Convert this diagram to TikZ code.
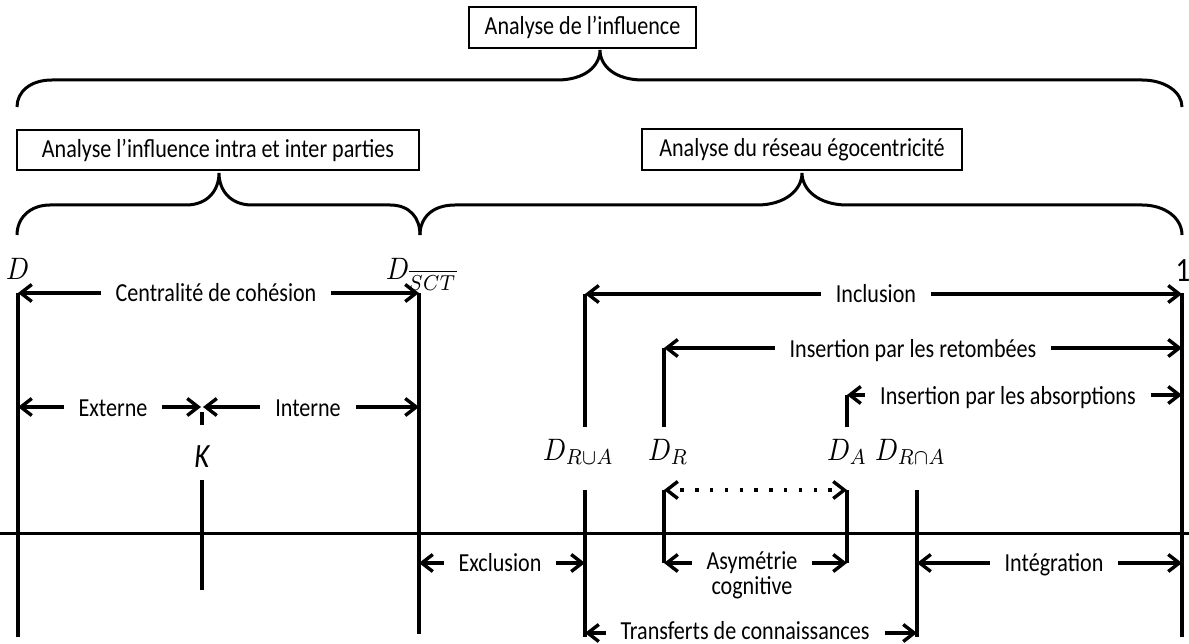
\documentclass[tikz,border=0pt]{standalone}
\usepackage{graphicx}
\usepackage{fontspec}
\setmainfont{Carlito}[FakeStretch=0.85]
\usetikzlibrary{arrows.meta}
\newcommand{\bigmath}[1]{\scalebox{2.7}[3.1]{\fontsize{10}{12}\selectfont$#1$}}
\begin{document}
\begin{tikzpicture}[x=1pt,y=-1pt,
  every node/.style={font=\fontsize{26}{28}\selectfont, inner sep=0pt},
  lbl/.style={fill=white, inner xsep=15pt, inner ysep=2pt, anchor=base},
  plain/.style={anchor=base},
  box/.style={draw, line width=1.2pt},
  vline/.style={line width=3.5pt},
  hline/.style={line width=3pt},
  arr/.style={line width=3.4pt, {Straight Barb[length=11pt,width=17pt]}-{Straight Barb[length=11pt,width=17pt]}},
  brace/.style={line width=3pt},
  mathlbl/.style={anchor=base west},
  biglbl/.style={font=\fontsize{34}{36}\selectfont}]
\useasboundingbox (0,0) rectangle (1189,644);

% ---- boxes ----
\node[box, minimum width=227pt, minimum height=41pt] (b0) at (582.5,27.5) {Analyse de l’influence};
\node[box, minimum width=402pt, minimum height=40pt] (b1) at (218,150) {Analyse l’influence intra et inter parties};
\node[box, minimum width=320pt, minimum height=41pt] (b2) at (802,149.5) {Analyse du réseau égocentricité};

% ---- braces ----
\coordinate (t0l) at (17,107);
\coordinate (t0r) at (1182,107);
\coordinate (tip0) at (600,50);
\draw[brace] (t0l) .. controls (17,92) and (30,80) .. (52,80) -- (557,80)
  .. controls (585,80) and (600,66) .. (tip0)
  .. controls (600,66) and (615,80) .. (643,80) -- (1142,80)
  .. controls (1165,80) and (1182,92) .. (t0r);

\coordinate (t1l) at (17,235);
\coordinate (t1m) at (420,235);
\coordinate (tip1) at (219,173);
\draw[brace] (t1l) .. controls (17,218) and (30,205) .. (50,205) -- (186,205)
  .. controls (208,205) and (219,190) .. (tip1)
  .. controls (219,190) and (230,205) .. (252,205) -- (390,205)
  .. controls (410,205) and (420,218) .. (t1m);

\coordinate (t2r) at (1182,235);
\coordinate (tip2) at (802,173);
\draw[brace] (t1m) .. controls (420,218) and (432,205) .. (455,205) -- (757,205)
  .. controls (785,205) and (802,190) .. (tip2)
  .. controls (802,190) and (819,205) .. (847,205) -- (1142,205)
  .. controls (1165,205) and (1182,218) .. (t2r);

% ---- main axis ----
\coordinate (axL) at (0,533);
\coordinate (axR) at (1189,533);
\draw[hline] (axL) -- (axR);

% ---- vertical lines ----
\coordinate (Dt) at (18,293);    \coordinate (Db) at (18,637);
\coordinate (St) at (419,293);   \coordinate (Sb) at (419,634);
\coordinate (Kt1) at (202,412);  \coordinate (Kb1) at (202,425);
\coordinate (Kt2) at (202,480);  \coordinate (Kb2) at (202,590);
\coordinate (Ut1) at (585,294);  \coordinate (Ub1) at (585,427);
\coordinate (Ut2) at (585,490);  \coordinate (Ub2) at (585,637);
\coordinate (Rt1) at (664,348);  \coordinate (Rb1) at (664,427);
\coordinate (Rt2) at (664,490);  \coordinate (Rb2) at (664,563);
\coordinate (At1) at (847,395);  \coordinate (Ab1) at (847,427);
\coordinate (At2) at (847,490);  \coordinate (Ab2) at (847,563);
\coordinate (It) at (917,490);   \coordinate (Ib) at (917,637);
\coordinate (Ot) at (1182,293);  \coordinate (Ob) at (1182,637);
\draw[vline] (Dt) -- (Db);
\draw[vline] (St) -- (Sb);
\draw[vline] (Kt1) -- (Kb1);
\draw[vline] (Kt2) -- (Kb2);
\draw[vline] (Ut1) -- (Ub1);
\draw[vline] (Ut2) -- (Ub2);
\draw[vline] (Rt1) -- (Rb1);
\draw[vline] (Rt2) -- (Rb2);
\draw[vline] (At1) -- (Ab1);
\draw[vline] (At2) -- (Ab2);
\draw[vline] (It) -- (Ib);
\draw[vline] (Ot) -- (Ob);

% ---- arrows ----
\coordinate (eL) at (18,407);   \coordinate (eR) at (201,407);
\coordinate (iL) at (203,407);  \coordinate (iR) at (419,407);
\coordinate (Ur) at (1182,294);
\coordinate (Rr) at (1182,348);
\coordinate (Ar) at (1182,395);
\coordinate (xL) at (419,563);  \coordinate (xR) at (585,563);
\coordinate (gL) at (917,563);  \coordinate (gR) at (1182,563);
\coordinate (cL) at (585,633);  \coordinate (cR) at (917,633);
\draw[arr] (Dt) -- (St);
\draw[arr] (eL) -- (eR);
\draw[arr] (iL) -- (iR);
\draw[arr] (Ut1) -- (Ur);
\draw[arr] (Rt1) -- (Rr);
\draw[arr] (At1) -- (Ar);
\draw[arr, dash pattern=on 3.4pt off 11.4pt, dash phase=-12pt] (Rt2) -- (At2);
\draw[arr] (xL) -- (xR);
\draw[arr] (Rb2) -- (Ab2);
\draw[arr] (gL) -- (gR);
\draw[arr] (cL) -- (cR);

% ---- arrow labels ----
\node[lbl] (nCent) at (216,302) {Centralité de cohésion};
\node[lbl] (nExt) at (113,416) {Externe};
\node[lbl] (nInt) at (308,416) {Interne};
\node[lbl] (nIncl) at (876,303) {Inclusion};
\node[lbl] (nRet) at (913,357) {Insertion par les retombées};
\node[lbl] (nAbs) at (1008,404) {Insertion par les absorptions};
\node[lbl] (nExcl) at (500,571) {Exclusion};
\node[lbl] (nAsy) at (752,569) {Asymétrie};
\node[plain] (nCog) at (752,594) {cognitive};
\node[lbl] (nInteg) at (1054,571) {Intégration};
\node[lbl, inner ysep=0.5pt] (nTrans) at (745,639) {Transferts de connaissances};

% ---- point labels ----
\node[mathlbl] (lD) at (6,280) {\bigmath{D}};
\node[mathlbl] (lS) at (386,280) {\bigmath{D_{\overline{SCT}}}};
\node[biglbl, anchor=base] (l1) at (1183,282) {1};
\node[biglbl, anchor=base] (lK) at (202,467) {\itshape K};
\node[mathlbl] (lU) at (543,460) {\bigmath{D_{R\cup A}}};
\node[mathlbl] (lR) at (648,460) {\bigmath{D_{R}}};
\node[mathlbl] (lA) at (827,460) {\bigmath{D_{A}}};
\node[mathlbl] (lI) at (875,460) {\bigmath{D_{R\cap A}}};
\end{tikzpicture}
\end{document}
